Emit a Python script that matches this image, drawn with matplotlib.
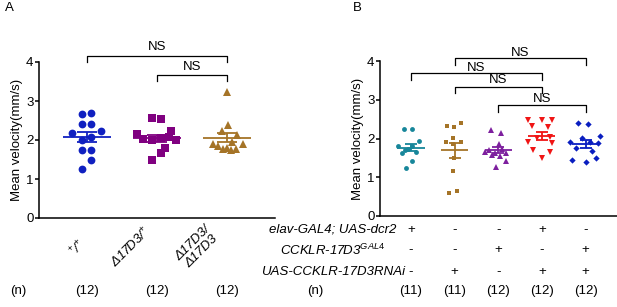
import numpy as np
import matplotlib
matplotlib.use("Agg")
import matplotlib.pyplot as plt

plt.rcParams['font.family'] = ['Liberation Sans', 'DejaVu Sans']
plt.rcParams['mathtext.fontset'] = 'custom'
plt.rcParams['mathtext.rm'] = 'Liberation Sans'
plt.rcParams['mathtext.it'] = 'Liberation Sans:italic'
plt.rcParams['font.size'] = 9.5

# ---- panel A data ----
a_labels = ["$^{+}$/$^{+}$", "Δ17D3/$^{+}$", "Δ17D3/\nΔ17D3"]
a_n = ["(12)", "(12)", "(12)"]
a_wt = [2.67, 2.68, 2.41, 2.41, 2.19, 2.24, 2.00, 2.07, 1.74, 1.74, 1.49, 1.25]
a_het = [2.56, 2.54, 2.24, 2.15, 2.02, 2.00, 2.05, 2.08, 2.00, 1.80, 1.66, 1.49]
a_hom = [3.22, 2.38, 2.24, 2.13, 1.91, 1.91, 1.95, 1.85, 1.80, 1.78, 1.76, 1.75]

# ---- panel B data ----
b_n = ["(11)", "(11)", "(12)", "(12)", "(12)"]
b_rows = ["elav-GAL4; UAS-dcr2", "CCKLR-17D3$^{GAL4}$", "UAS-CCKLR-17D3RNAi"]
b_signs = [["+", "-", "-", "+", "-"],
           ["-", "-", "+", "-", "+"],
           ["-", "+", "-", "+", "+"]]
b_g1 = [2.25, 2.25, 1.93, 1.80, 1.70, 1.80, 1.72, 1.65, 1.62, 1.43, 1.25]
b_g2 = [2.33, 2.30, 2.41, 2.02, 1.91, 1.91, 1.85, 1.50, 1.16, 0.59, 0.65]
b_g3 = [2.23, 2.13, 1.85, 1.70, 1.62, 1.72, 1.66, 1.62, 1.57, 1.55, 1.42, 1.26]
b_g4 = [2.49, 2.47, 2.49, 2.32, 2.30, 2.02, 2.05, 1.90, 1.88, 1.70, 1.66, 1.50]
b_g5 = [2.40, 2.37, 2.06, 2.02, 1.92, 1.90, 1.88, 1.75, 1.68, 1.50, 1.45, 1.40]

# horizontal jitter (pixels) used to spread the dots
a_jit = [[-5, 4, -5, 4, -15, 14, -5, 4, -5, 4, 4, -5],
         [-5, 4, 14, -20, -14, -5, 4, 12, 19, 8, 4, -5],
         [0, 1, -5, 10, -14, 16, 5, -9, 0, 9, -4, 4]]
b_jit = [[-7, 1, 8, -13, -6, 1, -3, 5, -9, 1, -5],
         [-8, -1, 6, -2, -9, 6, -2, -1, -2, -6, 2],
         [-7, 3, 1, -9, -3, 4, -13, 8, -6, 2, 8, -2],
         [-14, 0, 10, -10, 6, -5, 8, -14, 10, -9, 8, 0],
         [-8, 2, 14, -4, -16, 4, 12, -10, 6, 10, -14, 0]]

fig = plt.figure(figsize=(6.17, 3.07), dpi=100)
axA = fig.add_axes([39 / 617, 89 / 307, 236 / 617, 156 / 307])
axB = fig.add_axes([380 / 617, 91 / 307, 237 / 617, 155 / 307])


def style(ax):
    for s in ['top', 'right']:
        ax.spines[s].set_visible(False)
    for s in ['left', 'bottom']:
        ax.spines[s].set_linewidth(1.1)
    ax.set_ylim(0, 4)
    ax.set_yticks([0, 1, 2, 3, 4])
    ax.tick_params(axis='y', length=3, width=1.1, pad=1, labelsize=9.5)
    ax.tick_params(axis='x', length=0, labelbottom=False)
    ax.set_ylabel("Mean velocity(mm/s)", fontsize=9.5, labelpad=2)


def group(ax, x, vals, jit, pxu, color, marker, ms, half, cap):
    vals = np.array(vals)
    xs = x + np.array(jit) / pxu
    ax.plot(xs, vals, linestyle='none', marker=marker, ms=ms, color=color,
            markeredgewidth=0, clip_on=False, zorder=3)
    m = vals.mean()
    sem = vals.std(ddof=1) / np.sqrt(len(vals))
    ax.hlines(m, x - half, x + half, color=color, lw=1.3, zorder=4)
    ax.errorbar(x, m, yerr=sem, fmt='none', ecolor=color, elinewidth=1.3,
                capsize=cap, capthick=1.3, zorder=4)


def bracket(ax, x1, x2, y, y_low, txt_y):
    ax.plot([x1, x1, x2, x2], [y_low, y, y, y_low], color='black', lw=0.9,
            clip_on=False)
    ax.text((x1 + x2) / 2, txt_y, "NS", ha='center', va='center', fontsize=9.5)


# ---- panel A ----
style(axA)
axA.set_xlim(0.31, 3.69)
pxA = 70.0
colA = ['#1020c0', '#800080', '#a57428']
mkA = [('o', 5.6), ('s', 5.3), ('^', 6.2)]
for i, vals in enumerate([a_wt, a_het, a_hom]):
    group(axA, i + 1, vals, a_jit[i], pxA, colA[i], mkA[i][0], mkA[i][1], 0.34, 7)
bracket(axA, 1, 3, 4.15, 4.0, 4.38)
bracket(axA, 2, 3, 3.66, 3.51, 3.88)
for x, y, lab in zip([0.87, 1.63, 2.58], [-0.78, -0.75, -0.75], a_labels):
    axA.text(x, y, lab, rotation=45, ha='center', va='center', fontsize=9.5,
             style='italic', linespacing=1.0, clip_on=False)
axA.text(0.014, -1.87, "(n)", ha='center', va='center', fontsize=9.5)
for i, t in enumerate(a_n):
    axA.text(i + 1, -1.87, t, ha='center', va='center', fontsize=9.5)

# ---- panel B ----
style(axB)
axB.set_xlim(0.29, 5.72)
pxB = 43.6
colB = ['#17869a', '#a57428', '#7d1f9e', '#f01515', '#0a1ec0']
mkB = [('o', 3.5), ('s', 3.5), ('^', 4.4), ('v', 4.4), ('D', 3.2)]
for i, vals in enumerate([b_g1, b_g2, b_g3, b_g4, b_g5]):
    group(axB, i + 1, vals, b_jit[i], pxB, colB[i], mkB[i][0], mkB[i][1], 0.31, 4.3)
bracket(axB, 2, 5, 4.07, 3.90, 4.21)
bracket(axB, 1, 4, 3.68, 3.51, 3.82)
bracket(axB, 2, 4, 3.34, 3.18, 3.51)
bracket(axB, 3, 5, 2.86, 2.69, 3.02)
row_y = [-0.36, -0.88, -1.44]
for r, lab in enumerate(b_rows):
    axB.text(-0.79, row_y[r], lab, ha='center', va='center', fontsize=9.5,
             style='italic', clip_on=False)
    for i, s in enumerate(b_signs[r]):
        axB.text(i + 1, row_y[r], s, ha='center', va='center', fontsize=9.5,
                 clip_on=False)
axB.text(-1.2, -1.94, "(n)", ha='center', va='center', fontsize=9.5)
for i, t in enumerate(b_n):
    axB.text(i + 1, -1.94, t, ha='center', va='center', fontsize=9.5)

fig.text(5 / 617, 1 - 8 / 307, "A", ha='left', va='center', fontsize=9.5)
fig.text(353 / 617, 1 - 8 / 307, "B", ha='left', va='center', fontsize=9.5)

fig.savefig("out.png", dpi=100)
